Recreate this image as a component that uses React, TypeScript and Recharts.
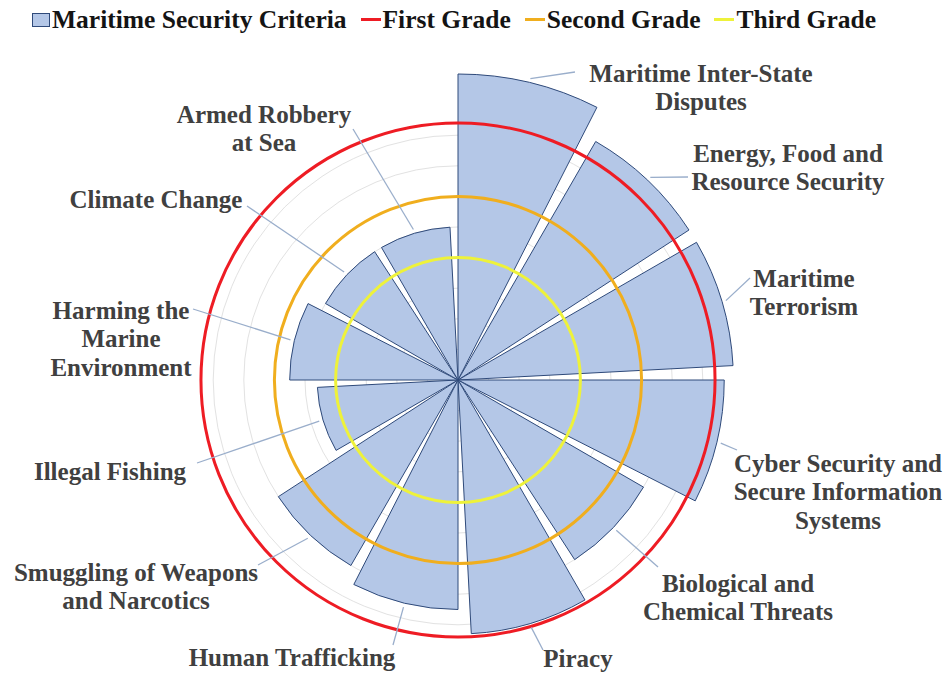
import React from "react";
import {
  RadialBarChart,
  RadialBar,
  PolarGrid,
  PolarAngleAxis,
  PolarRadiusAxis,
  Radar,
  LabelList,
  Legend,
} from "recharts";

// categories, clockwise from the top
const categories = [
  "Maritime Inter-State Disputes",
  "Energy, Food and Resource Security",
  "Maritime Terrorism",
  "Cyber Security and Secure Information Systems",
  "Biological and Chemical Threats",
  "Piracy",
  "Human Trafficking",
  "Smuggling of Weapons and Narcotics",
  "Illegal Fishing",
  "Harming the Marine Environment",
  "Climate Change",
  "Armed Robbery at Sea",
];

// how the category names wrap on the chart
const categoryLines = [
  ["Maritime Inter-State", "Disputes"],
  ["Energy, Food and", "Resource Security"],
  ["Maritime", "Terrorism"],
  ["Cyber Security and", "Secure Information", "Systems"],
  ["Biological and", "Chemical Threats"],
  ["Piracy"],
  ["Human Trafficking"],
  ["Smuggling of Weapons", "and Narcotics"],
  ["Illegal Fishing"],
  ["Harming the", "Marine", "Environment"],
  ["Climate Change"],
  ["Armed Robbery", "at Sea"],
];

const criteriaValues = [10.0, 9.0, 9.0, 8.7, 7.0, 8.3, 7.5, 7.0, 4.6, 5.5, 5.0, 5.0];

const seriesName = "Maritime Security Criteria";
const gradeKeys = ["first", "second", "third"];
const gradeNames = ["First Grade", "Second Grade", "Third Grade"];
const gradeLevels = [8.4, 6.0, 4.0];
const gradeColors = ["#ee1c24", "#f0ae1e", "#eef23a"];

const gridTicks = [1, 2, 3, 4, 5, 6, 7, 8];

const data = categories.map((name, i) => ({
  name,
  value: criteriaValues[i],
  first: gradeLevels[0],
  second: gradeLevels[1],
  third: gradeLevels[2],
}));

const FONT = '"Liberation Serif", "Times New Roman", serif';
const BAR_FILL = "#b4c7e7";
const BAR_STROKE = "#2f4a7a";
const LEADER = "#9aaecb";

// label placement, relative to the chart centre: leader end (ex, ey), text centre x and first baseline
const labelLayout = [
  { ex: 117, ey: -308, tx: 243, ty: -298 },
  { ex: 230, ey: -203, tx: 330, ty: -218 },
  { ex: 292, ey: -102, tx: 346, ty: -93 },
  { ex: 279, ey: 70, tx: 380, ty: 92 },
  { ex: 200, ey: 187, tx: 280, ty: 212 },
  { ex: 85, ey: 270, tx: 120, ty: 287 },
  { ex: -65, ey: 265, tx: -166, ty: 286 },
  { ex: -200, ey: 185, tx: -322, ty: 201 },
  { ex: -261, ey: 83, tx: -348, ty: 100 },
  { ex: -265, ey: -71, tx: -337, ty: -61 },
  { ex: -211, ey: -174, tx: -302, ty: -172 },
  { ex: -105, ey: -251, tx: -194, ty: -257 },
];

const renderCategoryLabel = (props: any) => {
  const { viewBox, index } = props;
  if (!viewBox || labelLayout[index] == null) return null;
  const { cx, cy, outerRadius, startAngle, endAngle } = viewBox;
  const mid = ((startAngle + endAngle) / 2) * (Math.PI / 180);
  const sx = cx + (outerRadius + 4) * Math.cos(-mid);
  const sy = cy + (outerRadius + 4) * Math.sin(-mid);
  const l = labelLayout[index];
  return (
    <g>
      <line x1={sx} y1={sy} x2={cx + l.ex} y2={cy + l.ey} stroke={LEADER} strokeWidth={1.3} />
      <text
        x={cx + l.tx}
        y={cy + l.ty}
        textAnchor="middle"
        fontFamily={FONT}
        fontWeight="bold"
        fontSize={25}
        fill="#404040"
      >
        {categoryLines[index].map((line, i) => (
          <tspan key={i} x={cx + l.tx} dy={i === 0 ? 0 : 28.4}>
            {line}
          </tspan>
        ))}
      </text>
    </g>
  );
};

const ringShape = (color: string) => (props: any) => {
  const p = props.points && props.points[0];
  if (!p) return null;
  return <circle cx={p.cx} cy={p.cy} r={p.radius} fill="none" stroke={color} strokeWidth={3} />;
};

const renderLegend = () => (
  <div
    style={{
      display: "flex",
      alignItems: "center",
      paddingLeft: 32,
      fontFamily: FONT,
      fontWeight: "bold",
      fontSize: 25.5,
      lineHeight: "25px",
      color: "#141414",
      whiteSpace: "nowrap",
    }}
  >
    <span
      style={{
        display: "inline-block",
        width: 16,
        height: 12,
        background: BAR_FILL,
        border: `1px solid ${BAR_STROKE}`,
        marginRight: 2,
      }}
    />
    <span style={{ marginRight: 14 }}>{seriesName}</span>
    {gradeNames.map((g, i) => (
      <React.Fragment key={g}>
        <span
          style={{ display: "inline-block", width: 20, height: 3, background: gradeColors[i], marginRight: 2 }}
        />
        <span style={{ marginRight: 14 }}>{g}</span>
      </React.Fragment>
    ))}
  </div>
);

export default function App() {
  return (
    <div style={{ width: 946, height: 675 }}>
      <style>{"body { margin: 0; }"}</style>
      <RadialBarChart
        width={946}
        height={675}
        data={data}
        cx={458}
        cy={380}
        innerRadius={0}
        outerRadius={306}
        startAngle={61.5}
        endAngle={-298.5}
        layout="centric"
        barCategoryGap="5%"
        margin={{ top: 0, right: 0, bottom: 0, left: 0 }}
      >
        <PolarGrid gridType="circle" radialLines={false} stroke="#e2e2e2" />
        <PolarAngleAxis type="category" dataKey="name" tick={false} axisLine={false} tickLine={false} />
        <PolarRadiusAxis type="number" domain={[0, 10]} ticks={gridTicks} tick={false} axisLine={false} />
        <RadialBar
          dataKey="value"
          name={seriesName}
          fill={BAR_FILL}
          stroke={BAR_STROKE}
          strokeWidth={1}
          isAnimationActive={false}
        >
          <LabelList dataKey="name" content={renderCategoryLabel} />
        </RadialBar>
        {gradeKeys.map((key, i) => (
          <Radar
            key={key}
            dataKey={key}
            name={gradeNames[i]}
            stroke={gradeColors[i]}
            fill="none"
            dot={false}
            zIndex={450}
            shape={ringShape(gradeColors[i])}
            isAnimationActive={false}
          />
        ))}
        <Legend
          verticalAlign="middle"
          content={renderLegend}
          wrapperStyle={{ top: 7, left: 0, width: 946 }}
        />
      </RadialBarChart>
    </div>
  );
}
